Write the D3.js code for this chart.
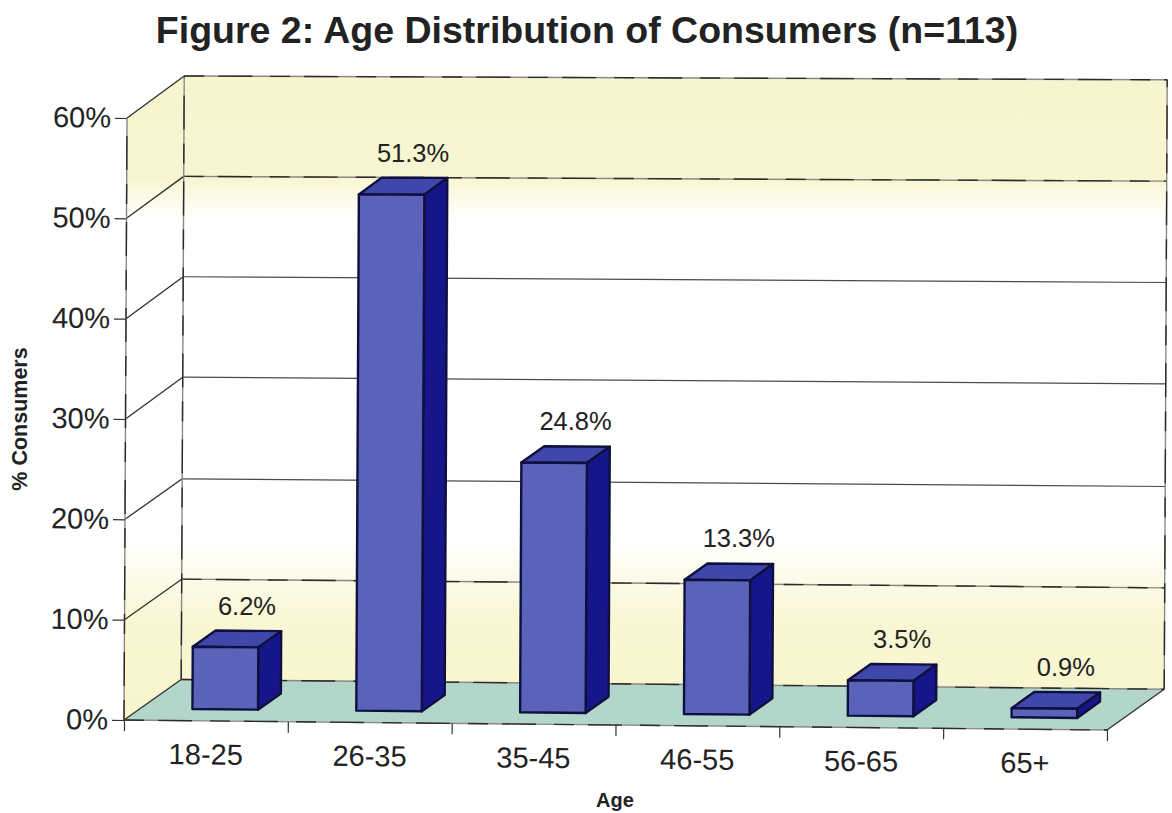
<!DOCTYPE html>
<html>
<head lang="en">
  <meta charset="UTF-8">
  <title>Age Distribution of Consumers</title>
  <script src="https://cdn.jsdelivr.net/npm/d3@7"></script>
</head>
<style>
  html, body { margin: 0; padding: 0; background: #fff; }
  svg { display: block; }
  text { font-family: "Liberation Sans", Arial, sans-serif; fill: #222; }
  .axis text { font-size: 29px; }
  .axis line { stroke: #333; stroke-width: 1.2; }
  .axis path { display: none; }
  .bar-label { font-size: 25.5px; text-anchor: middle; }
  .axis-title { font-size: 20px; font-weight: bold; text-anchor: middle; }
  .chart-title { font-size: 37.5px; font-weight: bold; text-anchor: middle; }
  .bar path { stroke: #10103f; stroke-width: 2.4; stroke-linejoin: round; }
  .edge { fill: none; stroke: #8a8a84; stroke-width: 1.4; }
  .edge-dash { fill: none; stroke: #2b2b2b; stroke-width: 1.4; stroke-dasharray: 20 14 34 18; }
  .grid { fill: none; stroke: #4a4a4a; stroke-width: 1.2; }
  .slant { fill: none; stroke: #2e2e2e; stroke-width: 1.3; }
</style>
<body>

<svg id="chart" width="1172" height="813"></svg>

<script>
  var categories = ['18-25', '26-35', '35-45', '46-55', '56-65', '65+'];
  var percents   = [6.2, 51.3, 24.8, 13.3, 3.5, 0.9];
  var yTicks     = [0, 10, 20, 30, 40, 50, 60];
  var heavyTicks = [0, 10, 50, 60];

  // Plot box
  var originX = 124, originY = 720;
  var plotWidth = 983, plotHeight = 602;
  var depthX = 57, depthY = -41;

  // Bars sit between these fractions of the floor depth
  var barNear = 0.285, barFar = 0.685;

  var x = d3.scaleBand().domain(categories).range([3, plotWidth + 3])
    .paddingInner(0.6).paddingOuter(0.3);
  var xAxisScale = d3.scaleBand().domain(categories).range([0, plotWidth]);
  var xEdges = d3.scaleLinear().domain([0, categories.length]).range([0, plotWidth]);
  var y = d3.scaleLinear().domain([0, 60]).range([0, -plotHeight]);

  var svg = d3.select('#chart');

  // Chart units to page pixels. The box leans a little, more at the bottom than at the top.
  function place(px, py, depth) {
    var cx = px + (depth || 0) * depthX;
    var cy = py + (depth || 0) * depthY * (py < -300 ? 1.03 : 1);
    return [
      originX + cx - 0.005 * cy,
      originY + cy + cx * (0.0102 + 0.0000098 * cy)
    ];
  }

  function poly(points) {
    return 'M' + points.map(function (p) { return place(p[0], p[1], p[2]).join(','); }).join('L') + 'Z';
  }

  function line(points) {
    return 'M' + points.map(function (p) { return place(p[0], p[1], p[2]).join(','); }).join('L');
  }

  var boxTop = y(60), boxFloor = y(0);

  // Wall shading: yellow bands at the top and bottom, white between
  var wallGradient = svg.append('defs').append('linearGradient')
    .attr('id', 'wall')
    .attr('gradientUnits', 'userSpaceOnUse')
    .attr('x1', 0).attr('x2', 0)
    .attr('y1', place(0, boxTop, 1)[1]).attr('y2', place(0, boxFloor, 0)[1]);

  [[0, '#f7f5cf'], [0.16, '#f8f6d2'], [0.2, '#fdfcf0'], [0.225, '#ffffff'],
   [0.72, '#ffffff'], [0.79, '#fbfae6'], [0.84, '#f9f7d4'], [1, '#f8f5cc']].forEach(function (s) {
    wallGradient.append('stop').attr('offset', s[0]).attr('stop-color', s[1]);
  });

  // Back wall, left wall, floor
  svg.append('path').attr('fill', 'url(#wall)')
    .attr('d', poly([[0, boxTop, 1], [plotWidth, boxTop, 1], [plotWidth, boxFloor, 1], [0, boxFloor, 1]]));
  svg.append('path').attr('fill', 'url(#wall)')
    .attr('d', poly([[0, boxTop, 0], [0, boxTop, 1], [0, boxFloor, 1], [0, boxFloor, 0]]));
  svg.append('path').attr('fill', '#b3d6cb')
    .attr('d', poly([[0, boxFloor, 0], [0, boxFloor, 1], [plotWidth, boxFloor, 1], [plotWidth, boxFloor, 0]]));

  // Gridlines run along the left wall and then across the back wall
  yTicks.forEach(function (t) {
    var heavy = heavyTicks.indexOf(t) >= 0;
    svg.append('path').attr('class', 'slant')
      .attr('d', line([[0, y(t), 0], [0, y(t), 1]]));
    var back = line([[0, y(t), 1], [plotWidth, y(t), 1]]);
    svg.append('path').attr('class', heavy ? 'edge' : 'grid').attr('d', back);
    if (heavy) svg.append('path').attr('class', 'edge-dash').attr('d', back);
  });

  // Box edges
  [[0, 0], [0, 1], [plotWidth, 1]].forEach(function (e) {
    var edge = line([[e[0], boxFloor, e[1]], [e[0], boxTop, e[1]]]);
    svg.append('path').attr('class', 'edge').attr('d', edge);
    svg.append('path').attr('class', 'edge-dash').attr('d', edge);
  });

  var frontEdge = line([[0, boxFloor, 0], [plotWidth, boxFloor, 0]]);
  svg.append('path').attr('class', 'edge').attr('d', frontEdge);
  svg.append('path').attr('class', 'edge-dash').attr('d', frontEdge);
  svg.append('path').attr('class', 'slant')
    .attr('d', line([[plotWidth, boxFloor, 0], [plotWidth, boxFloor, 1]]));

  // Bars
  var bars = svg.selectAll('.bar')
    .data(percents)
    .enter()
      .append('g')
      .attr('class', 'bar');

  function barLeft(d, i) { return x(categories[i]); }

  bars.append('path').attr('fill', '#3f47ab')
    .attr('d', function (d, i) {
      var l = barLeft(d, i), r = l + x.bandwidth(), h = y(d);
      return poly([[l, h, barNear], [l, h, barFar], [r, h, barFar], [r, h, barNear]]);
    });

  bars.append('path').attr('fill', '#16168a')
    .attr('d', function (d, i) {
      var r = barLeft(d, i) + x.bandwidth(), h = y(d);
      return poly([[r, 0, barNear], [r, 0, barFar], [r, h, barFar], [r, h, barNear]]);
    });

  bars.append('path').attr('fill', '#5a63b9')
    .attr('d', function (d, i) {
      var l = barLeft(d, i), r = l + x.bandwidth(), h = y(d);
      return poly([[l, 0, barNear], [r, 0, barNear], [r, h, barNear], [l, h, barNear]]);
    });

  // Value labels
  bars.append('text')
    .attr('class', 'bar-label')
    .attr('x', function (d, i) {
      var l = barLeft(d, i);
      return place(l + x.bandwidth() / 2 + 10, y(d), (barNear + barFar) / 2)[0];
    })
    .attr('y', function (d, i) {
      return place(barLeft(d, i), y(d), barFar)[1] - 16;
    })
    .text(function (d) { return d.toFixed(1) + '%'; });

  // Axes share the lean of the box
  var axisTransform = 'translate(' + originX + ',' + originY + ') matrix(1,0.0102,-0.005,1,0,0)';

  svg.append('g').attr('class', 'axis').attr('transform', axisTransform)
    .call(d3.axisLeft(y).tickValues(yTicks).tickSize(12).tickPadding(4)
      .tickFormat(function (d) { return d + '%'; }));

  svg.append('g').attr('class', 'axis').attr('transform', axisTransform)
    .call(d3.axisBottom(xEdges).ticks(categories.length).tickSize(11).tickFormat(''));

  svg.append('g').attr('class', 'axis').attr('transform', axisTransform)
    .call(d3.axisBottom(xAxisScale).tickSize(0).tickPadding(23));

  // Titles
  svg.append('text').attr('class', 'chart-title')
    .attr('x', 587).attr('y', 43)
    .text('Figure 2: Age Distribution of Consumers (n=113)');

  svg.append('text').attr('class', 'axis-title')
    .attr('x', 615).attr('y', 807)
    .text('Age');

  svg.append('text').attr('class', 'axis-title')
    .style('font-size', '21.5px')
    .attr('transform', 'translate(27,419) rotate(-90)')
    .text('% Consumers');
</script>
</body>
</html>
